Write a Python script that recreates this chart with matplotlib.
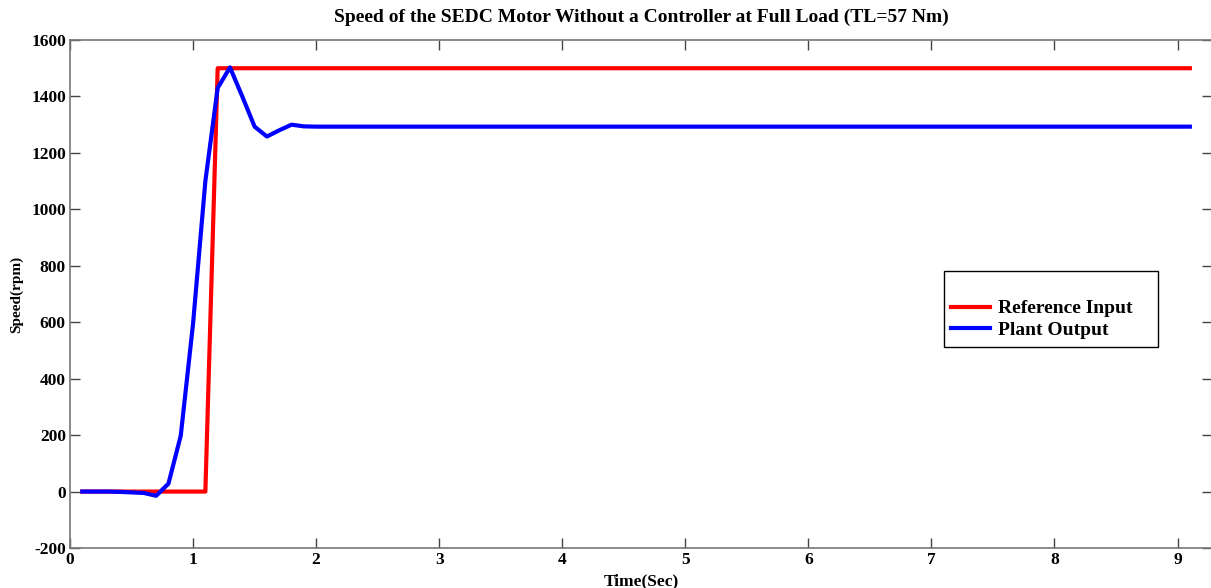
import matplotlib
matplotlib.use("Agg")
import matplotlib.pyplot as plt
from matplotlib.font_manager import FontProperties
import numpy as np

# sample times (s)
t = [0.1, 0.2, 0.3, 0.4, 0.5, 0.6, 0.7, 0.8, 0.9, 1.0,
     1.1, 1.2, 1.3, 1.4, 1.5, 1.6, 1.7, 1.8, 1.9, 2.0,
     3.0, 4.0, 5.0, 6.0, 7.0, 8.0, 9.0, 9.1]

# reference speed (rpm)
ref = [0, 0, 0, 0, 0, 0, 0, 0, 0, 0,
       0, 1500, 1500, 1500, 1500, 1500, 1500, 1500, 1500, 1500,
       1500, 1500, 1500, 1500, 1500, 1500, 1500, 1500]

# motor speed without controller (rpm)
out = [0, 0, 0, -1, -3, -5, -15, 28, 198, 595,
       1100, 1430, 1503, 1400, 1293, 1258, 1280, 1300, 1294, 1293,
       1293, 1293, 1293, 1293, 1293, 1293, 1293, 1293]

plt.rcParams['font.family'] = ['Liberation Serif', 'DejaVu Serif']
plt.rcParams['font.weight'] = 'bold'
plt.rcParams['axes.unicode_minus'] = False

fig = plt.figure(figsize=(12.11, 5.88), dpi=100)
ax = fig.add_axes([70/1211, 1-548/588, 1142/1211, 508/588])

ax.plot(t, ref, color='#ff0000', lw=3, label='Reference Input')
ax.plot(t, out, color='#0000ff', lw=3, label='Plant Output')

ax.set_xlim(0, 9.28)
ax.set_ylim(-200, 1600)
ax.set_xticks(np.arange(0, 10))
ax.set_yticks(np.arange(-200, 1601, 200))
ax.tick_params(direction='in', length=7, width=1, top=True, right=True,
               labelsize=12.5, color='#444444', pad=3)
for lab in ax.get_xticklabels() + ax.get_yticklabels():
    lab.set_fontweight('bold')
for s in ax.spines.values():
    s.set_color('#777777')
    s.set_linewidth(1.2)

ax.set_title('Speed of the SEDC Motor Without a Controller at Full Load (TL=57 Nm)',
             fontsize=14, fontweight='bold', pad=13)
ax.set_xlabel('Time(Sec)', fontsize=12.5, fontweight='bold', labelpad=4)
ax.set_ylabel('Speed(rpm)', fontsize=11, fontweight='bold', labelpad=6)

# legend box with blank title row, stretched to a fixed width
legfont = FontProperties(family='Liberation Serif', weight='bold', size=14)
leg = ax.legend(loc='upper left', bbox_to_anchor=(0.765, 0.4, 0.1874, 0.145),
                mode='expand', fancybox=False, edgecolor='black', framealpha=1,
                title=' ', prop=legfont, title_fontsize=14, handlelength=2.0,
                handletextpad=0.4, borderpad=0.4, labelspacing=0.2,
                borderaxespad=0)
leg.get_frame().set_linewidth(1)

fig.savefig('out.png', dpi=100)
